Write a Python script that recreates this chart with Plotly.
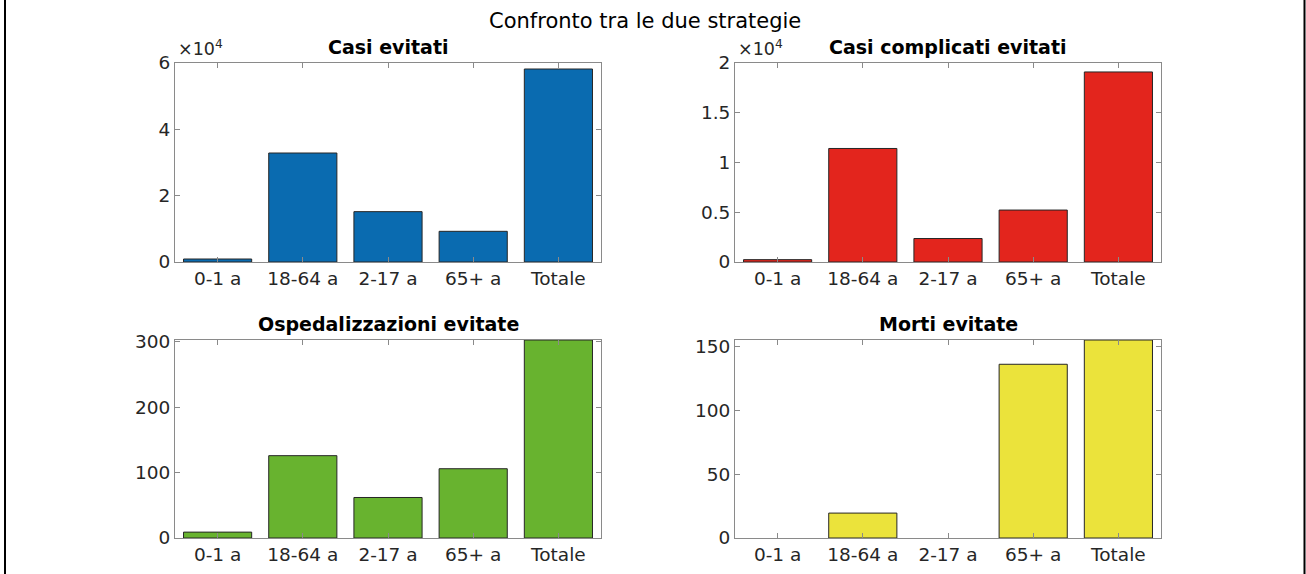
import plotly.graph_objects as go

categories = ["0-1 a", "18-64 a", "2-17 a", "65+ a", "Totale"]
casi_evitati = [905, 32860, 15180, 9250, 58190]
casi_complicati = [236, 11410, 2360, 5220, 19100]
ospedalizzazioni = [9, 126, 62, 106, 303]
morti = [0, 19.5, 0, 136, 155]

titles = ["Casi evitati", "Casi complicati evitati", "Ospedalizzazioni evitate", "Morti evitate"]
colors = ["#0A6BB0", "#E3251D", "#68B32F", "#EBE33B"]
series = [casi_evitati, casi_complicati, ospedalizzazioni, morti]
y_ranges = [[0, 60000], [0, 20000], [0, 303], [0, 155]]
tick_vals = [[0, 20000, 40000, 60000], [0, 5000, 10000, 15000, 20000],
             [0, 100, 200, 300], [0, 50, 100, 150]]
tick_text = [["0", "2", "4", "6"], ["0", "0.5", "1", "1.5", "2"],
             ["0", "100", "200", "300"], ["0", "50", "100", "150"]]

W, H = 1306, 574
# pixel boxes (left, right, top, bottom)
boxes = [(175, 601, 63, 262), (735, 1161, 63, 262),
         (175, 601, 340, 538), (735, 1161, 340, 538)]

fig = go.Figure()
ann = []
font_fam = "DejaVu Sans"
for i in range(4):
    l, r, t, b = boxes[i]
    xa = "xaxis" if i == 0 else f"xaxis{i+1}"
    ya = "yaxis" if i == 0 else f"yaxis{i+1}"
    xref = "x" if i == 0 else f"x{i+1}"
    yref = "y" if i == 0 else f"y{i+1}"
    lw = [0 if v == 0 else 1 for v in series[i]]
    fig.add_trace(go.Bar(x=categories, y=series[i], marker_color=colors[i],
                         marker_line_color="#262626", marker_line_width=lw,
                         width=0.8, xaxis=xref, yaxis=yref, showlegend=False))
    axis_common = dict(showline=True, linecolor="#8a8a8a", linewidth=1, mirror="ticks",
                       ticks="inside", ticklen=5, tickcolor="#8a8a8a", showgrid=False,
                       zeroline=False, automargin=False,
                       tickfont=dict(family=font_fam, size=18.5, color="#262626"))
    fig.update_layout({
        xa: dict(domain=[l / W, r / W], anchor=yref, range=[-0.5, 4.5],
                 type="category", categoryorder="array", categoryarray=categories, **axis_common),
        ya: dict(domain=[1 - b / H, 1 - t / H], anchor=xref, range=y_ranges[i],
                 tickvals=tick_vals[i], ticktext=tick_text[i], **axis_common),
    })
    ann.append(dict(text="<b>" + titles[i] + "</b>", x=(l + r) / 2 / W, y=1 - (t - 3) / H,
                    xref="paper", yref="paper", xanchor="center", yanchor="bottom",
                    showarrow=False, font=dict(family=font_fam, size=19, color="black")))
    if i < 2:
        ann.append(dict(text="×10<sup>4</sup>", x=(l + 1) / W, y=1 - (t - 2) / H,
                        xref="paper", yref="paper", xanchor="left", yanchor="bottom",
                        showarrow=False, font=dict(family=font_fam, size=17.5, color="#262626")))

ann.append(dict(text="Confronto tra le due strategie", x=645 / W, y=1 - 7 / H,
                xref="paper", yref="paper", xanchor="center", yanchor="top",
                showarrow=False, font=dict(family=font_fam, size=21, color="black")))

shapes = [
    dict(type="line", xref="paper", yref="paper", x0=5 / W, x1=5 / W, y0=0, y1=1,
         line=dict(color="black", width=2)),
    dict(type="line", xref="paper", yref="paper", x0=1304.5 / W, x1=1304.5 / W, y0=0, y1=1,
         line=dict(color="black", width=2)),
]

fig.update_layout(template="none", width=W, height=H, margin=dict(l=0, r=0, t=0, b=0, pad=0),
                  paper_bgcolor="white", plot_bgcolor="white",
                  annotations=ann, shapes=shapes, bargap=0.2)
fig.write_html("out.html", config={"displayModeBar": False},
               post_script="document.body.style.margin='0';document.body.style.overflow='hidden';")
